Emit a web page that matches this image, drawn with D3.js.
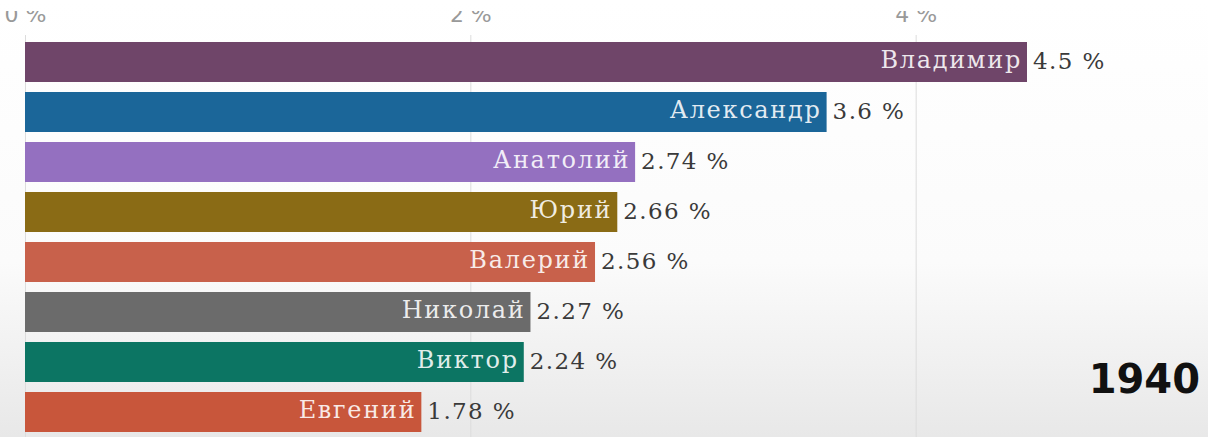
<!DOCTYPE html>
<html>
<head>
<meta charset="utf-8">
<script src="https://cdn.jsdelivr.net/npm/d3@7"></script>
<style>
  body { margin: 0; background: #fff; }
  svg { display: block; }
  .name { font-family: "DejaVu Serif", serif; font-size: 24px; letter-spacing: 1.7px; }
  .value { font-family: "DejaVu Serif", serif; font-size: 23px; letter-spacing: 1.4px; fill: #3a3a3a; }
  .tick text { font-family: "DejaVu Sans", sans-serif; font-size: 22px; fill: #999; }
  .grid line { stroke: #dcdcdc; }
</style>
</head>
<body>
<div id="chart-container"></div>
<script>
// données (1940)
const names = ["Владимир", "Александр", "Анатолий", "Юрий", "Валерий", "Николай", "Виктор", "Евгений"];
const values = [4.5, 3.6, 2.74, 2.66, 2.56, 2.27, 2.24, 1.78];
const colors = ["#6f4569", "#1b6699", "#9470c0", "#8a6b15", "#c8614b", "#6b6b6b", "#0c7563", "#c8563b"];
const tickValues = [0, 2, 4];
const year = "1940";

const W = 1208, H = 437;
const margin = { top: 32, left: 25 };

const svg = d3.select("#chart-container")
  .append("svg")
  .attr("width", W)
  .attr("height", H);

// fond légèrement grisé en bas
const defs = svg.append("defs");
const grad = defs.append("linearGradient")
  .attr("id", "bg").attr("x1", 0).attr("y1", 0).attr("x2", 0).attr("y2", 1);
grad.append("stop").attr("offset", "0%").attr("stop-color", "#ffffff");
grad.append("stop").attr("offset", "60%").attr("stop-color", "#fbfbfb");
grad.append("stop").attr("offset", "100%").attr("stop-color", "#e8e8e8");
svg.append("rect").attr("width", W).attr("height", H).attr("fill", "url(#bg)");

// le haut des étiquettes de l'axe est coupé dans l'original
const axisY = 35;
defs.append("clipPath").attr("id", "axis-clip")
  .append("rect").attr("x", 0).attr("y", 11 - axisY).attr("width", W).attr("height", H);

const x = d3.scaleLinear().domain([0, 4.5]).range([margin.left, 1027]);
const y = d3.scaleBand().domain(names).range([margin.top, margin.top + 410]).padding(0.2);

// axe du haut + grille
const axis = svg.append("g")
  .attr("class", "grid")
  .attr("clip-path", "url(#axis-clip)")
  .attr("transform", `translate(0,${axisY})`)
  .call(d3.axisTop(x).tickValues(tickValues).tickSize(-(H - axisY)).tickFormat(d => d + " %"));
axis.select(".domain").remove();
axis.selectAll(".tick text").attr("y", -13).attr("dy", 0);

const data = names.map((n, i) => ({ name: n, value: values[i], color: colors[i] }));

const bars = svg.selectAll(".bar-group")
  .data(data)
  .enter()
  .append("g")
  .attr("class", "bar-group")
  .attr("transform", d => `translate(0,${y(d.name)})`);

bars.append("rect")
  .attr("x", x(0))
  .attr("width", d => x(d.value) - x(0))
  .attr("height", y.bandwidth())
  .attr("fill", d => d.color);

bars.append("text")
  .attr("class", "name")
  .attr("x", d => x(d.value) - 5)
  .attr("y", y.bandwidth() / 2)
  .attr("dy", "0.25em")
  .attr("text-anchor", "end")
  .attr("fill", "#fff")
  .attr("fill-opacity", 0.88)
  .text(d => d.name);

bars.append("text")
  .attr("class", "value")
  .attr("x", d => x(d.value) + 6)
  .attr("y", y.bandwidth() / 2)
  .attr("dy", "0.3em")
  .text(d => d.value + " %");

// année
svg.append("text")
  .attr("x", 1200)
  .attr("y", 393)
  .attr("text-anchor", "end")
  .style("font-family", "'DejaVu Sans', sans-serif")
  .style("font-weight", "bold")
  .style("font-size", "40px")
  .attr("fill", "#111")
  .text(year);
</script>
</body>
</html>
